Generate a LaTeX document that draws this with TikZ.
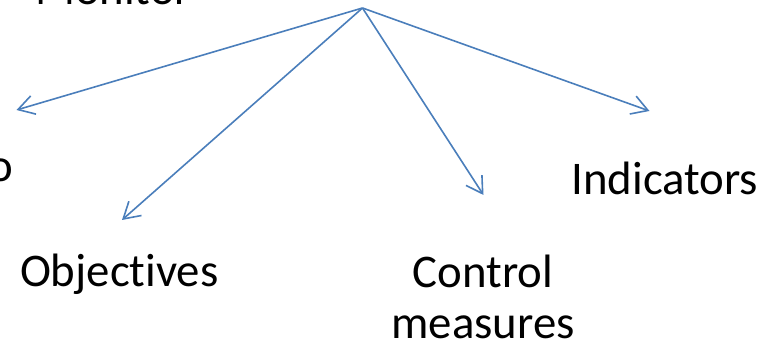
\documentclass[tikz,border=0pt]{standalone}
\usepackage{fontspec}
\setmainfont[Ligatures=CommonOff]{Carlito}
\usetikzlibrary{arrows.meta}
\definecolor{linkblue}{RGB}{74,126,187}
\tikzset{
  label/.style={inner sep=0pt, outer sep=0pt, font=\fontsize{46.8}{50.5}\selectfont, text=black},
  link/.style={draw=linkblue, line width=1.6pt,
    -{Straight Barb[length=16pt,width=19pt,line width=1.6pt]}}
}
\begin{document}
\begin{tikzpicture}[x=1pt,y=1pt]
  \useasboundingbox (0,0) rectangle (776,347);
  \clip (0,0) rectangle (776,347);

  % labels
  \node[label, anchor=base west] (monitor) at (35,342) {Monitor};
  \node[label, anchor=base west] (leftitem) at (-12,165) {o};
  \node[label, anchor=base west] (objectives) at (20,60) {Objectives};
  \node[label, anchor=base, align=center] (control) at (483,8.5) {Control\\measures};
  \node[label, anchor=base west] (indicators) at (571.5,152) {Indicators};

  % hub and arrow tips
  \coordinate (hub) at (362.5,339);
  \coordinate (tipA) at (16.5,237);
  \coordinate (tipB) at (122,127);
  \coordinate (tipC) at (483.5,152);
  \coordinate (tipD) at (649.5,236);

  \draw[link] (hub) -- (tipA);
  \draw[link] (hub) -- (tipB);
  \draw[link] (hub) -- (tipC);
  \draw[link] (hub) -- (tipD);
\end{tikzpicture}
\end{document}
